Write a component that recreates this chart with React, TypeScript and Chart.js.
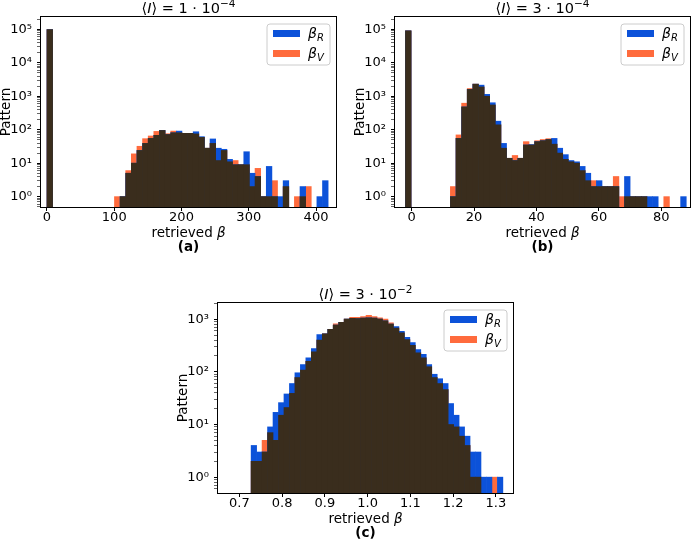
import React, { useEffect, useRef } from 'react';
import { Chart, registerables } from 'chart.js';

Chart.register(...registerables);

const FAMILY = '"DejaVu Sans", sans-serif';
const BLUE = '#0c52d9';
const ORANGE = '#ff6b3d';
const DARK = '#3a2d1d';

// ---------- Panel (a): <I> = 1e-4 ----------
const binStartA = 0;
const binWidthA = 8.36;
const countsRA = [
  99000, 0, 0, 0, 0, 0, 0, 0, 0, 0, 0, 0,
  0, 1, 5, 10, 24, 39, 55, 68, 95, 72, 81, 91, 78, 78, 87, 62, 28, 53,
  28, 26, 13, 9, 9, 22, 5, 4, 1, 8, 1, 1, 3, 0, 0, 2, 0, 0, 1, 3,
];
const countsVA = [
  99000, 0, 0, 0, 0, 0, 0, 0, 0, 0, 0, 0,
  1, 1, 6, 19, 32, 54, 65, 89, 95, 76, 91, 81, 78, 78, 75, 59, 28, 39,
  12, 24, 11, 12, 9, 9, 2, 7, 1, 1, 3, 0, 2, 0, 1, 1, 2, 0, 0, 0,
];

// ---------- Panel (b): <I> = 3e-4 ----------
const binStartB = -2;
const binWidthB = 1.8;
const countsRB = [
  91000, 0, 0, 0, 0, 0, 0, 0,
  1, 55, 480, 1600, 2300, 2150, 1140, 640, 180, 39, 14, 12, 14,
  35, 36, 44, 47, 51, 55, 28, 18, 12, 11, 8, 5, 2, 3, 2, 2, 2,
  0, 4, 1, 1, 1, 1, 1, 0, 0, 0, 0, 1,
];
const countsVB = [
  91000, 0, 0, 0, 0, 0, 0, 0,
  2, 70, 620, 1700, 2300, 1900, 1000, 550, 140, 28, 14, 17, 14,
  44, 35, 47, 51, 54, 37, 20, 13, 11, 10, 6, 3, 3, 2, 2, 2, 4,
  1, 1, 1, 1, 1, 0, 0, 0, 1, 0, 0, 0,
];

// ---------- Panel (c): <I> = 3e-2 ----------
const binStartC = 0.7275;
const binWidthC = 0.0128;
const countsRC = [
  4, 3, 3, 9, 17, 26, 38, 60, 96, 138, 185, 277, 510, 530, 640, 770,
  870, 1000, 1040, 1030, 1050, 1060, 1050, 1000, 930, 810, 720, 590, 450, 360,
  265, 215, 137, 90, 74, 60, 25, 15, 9, 6, 3, 3, 1, 1, 0, 1,
];
const countsVC = [
  2, 2, 5, 7, 5, 15, 21, 39, 78, 108, 158, 240, 400, 530, 640, 820,
  870, 1000, 1080, 1080, 1120, 1180, 1120, 1060, 1000, 850, 680, 550, 410, 320,
  230, 185, 125, 78, 60, 46, 10, 9, 6, 4, 1, 1, 0, 0, 1, 0,
];

// ---------- text ----------
const seriesNames = ['β', 'β'];
const seriesSubs = ['R', 'V'];
const titleMantissas = ['1', '3', '3'];
const titleExponents = ['−4', '−4', '−2'];
const captions = ['(a)', '(b)', '(c)'];
const xLabelText = 'retrieved ';
const xLabelSymbol = 'β';
const yLabelText = 'Pattern';

// ---------- axes ----------
const xRangeA = [-8.9, 429.7];
const xRangeB = [-5.35, 89.2];
const xRangeC = [0.65, 1.34];
const xStepA = 100;
const xStepB = 20;
const xStepC = 0.1;
const yRangeAB = [0.49, 2.34e5];
const yRangeC = [0.5, 2030];

const SUP: Record<string, string> = {
  '0': '⁰', '1': '¹', '2': '²', '3': '³', '4': '⁴', '5': '⁵', '6': '⁶', '7': '⁷', '8': '⁸', '9': '⁹', '-': '⁻',
};
const sup = (n: number) => String(n).split('').map((c) => SUP[c] ?? c).join('');

const font = (size: number, style = 'normal', weight = 'normal') => `${style} ${weight} ${size}px ${FAMILY}`;

type Part = { text: string; font: string; dy?: number; w?: number };

function drawParts(ctx: CanvasRenderingContext2D, parts: Part[], cx: number, baseline: number, align = 'center') {
  let total = 0;
  for (const p of parts) {
    ctx.font = p.font;
    p.w = ctx.measureText(p.text).width;
    total += p.w;
  }
  let x = align === 'center' ? cx - total / 2 : cx;
  ctx.textAlign = 'left';
  ctx.textBaseline = 'alphabetic';
  for (const p of parts) {
    ctx.font = p.font;
    ctx.fillText(p.text, x, baseline + (p.dy || 0));
    x += p.w || 0;
  }
}

const panelDecor = {
  id: 'panelDecor',
  afterDraw(chart: any, _args: any, opts: any) {
    const { ctx, chartArea: a } = chart;
    ctx.save();
    ctx.fillStyle = '#000';
    // frame
    ctx.strokeStyle = '#000';
    ctx.lineWidth = 1;
    ctx.strokeRect(a.left - 0.5, a.top - 0.5, a.right - a.left + 1, a.bottom - a.top + 1);
    const cx = (a.left + a.right) / 2;
    // title
    drawParts(ctx, [
      { text: '⟨', font: font(14.5) },
      { text: 'I', font: font(14.5, 'italic') },
      { text: '⟩ = ' + opts.mant + ' · 10', font: font(14.5) },
      { text: opts.exp, font: font(10.5), dy: -6 },
    ], cx, a.top - 4.5);
    // x label
    drawParts(ctx, [
      { text: xLabelText, font: font(13.5) },
      { text: xLabelSymbol, font: font(13.5, 'italic') },
    ], cx, a.bottom + 30);
    // caption
    drawParts(ctx, [{ text: opts.caption, font: font(13.5, 'normal', 'bold') }], cx, a.bottom + 44);
    // y label
    ctx.save();
    ctx.translate(a.left - 34.5, (a.top + a.bottom) / 2);
    ctx.rotate(-Math.PI / 2);
    ctx.font = font(13.5);
    ctx.textAlign = 'center';
    ctx.textBaseline = 'middle';
    ctx.fillText(yLabelText, 0, 0);
    ctx.restore();
    // legend
    const bw = 63, bh = 41;
    const bx = a.right - 6 - bw, by = a.top + 7;
    ctx.beginPath();
    const r = 3;
    ctx.moveTo(bx + r, by);
    ctx.lineTo(bx + bw - r, by);
    ctx.quadraticCurveTo(bx + bw, by, bx + bw, by + r);
    ctx.lineTo(bx + bw, by + bh - r);
    ctx.quadraticCurveTo(bx + bw, by + bh, bx + bw - r, by + bh);
    ctx.lineTo(bx + r, by + bh);
    ctx.quadraticCurveTo(bx, by + bh, bx, by + bh - r);
    ctx.lineTo(bx, by + r);
    ctx.quadraticCurveTo(bx, by, bx + r, by);
    ctx.closePath();
    ctx.fillStyle = 'rgba(255,255,255,0.8)';
    ctx.fill();
    ctx.strokeStyle = '#cccccc';
    ctx.stroke();
    const colors = [BLUE, ORANGE];
    for (let i = 0; i < 2; i++) {
      const cy = by + 9.5 + 20 * i;
      ctx.fillStyle = colors[i];
      ctx.fillRect(bx + 6, cy - 3.5, 27, 7);
      ctx.fillStyle = '#000';
      drawParts(ctx, [
        { text: seriesNames[i], font: font(14, 'italic') },
        { text: seriesSubs[i], font: font(10, 'italic'), dy: 3 },
      ], bx + 41, cy + 4.5, 'left');
    }
    ctx.restore();
  },
};

function toPoints(counts: number[], start: number, width: number) {
  return counts.map((c, k) => ({ x: start + (k + 0.5) * width, y: c > 0 ? c : null }));
}

type PanelCfg = {
  left: number; top: number; w: number; h: number;
  yW: number; padTop: number; padRight: number; padBottom: number;
  start: number; width: number; R: number[]; V: number[];
  xRange: number[]; xStep: number; xDec: number; yRange: number[];
  idx: number;
};

const panels: PanelCfg[] = [
  { left: 0, top: 0, w: 346, h: 270, yW: 41, padTop: 17, padRight: 10, padBottom: 43,
    start: binStartA, width: binWidthA, R: countsRA, V: countsVA,
    xRange: xRangeA, xStep: xStepA, xDec: 0, yRange: yRangeAB, idx: 0 },
  { left: 346, top: 0, w: 346, h: 270, yW: 49, padTop: 17, padRight: 2, padBottom: 43,
    start: binStartB, width: binWidthB, R: countsRB, V: countsVB,
    xRange: xRangeB, xStep: xStepB, xDec: 0, yRange: yRangeAB, idx: 1 },
  { left: 150, top: 270, w: 400, h: 269, yW: 68, padTop: 33, padRight: 37, padBottom: 26,
    start: binStartC, width: binWidthC, R: countsRC, V: countsVC,
    xRange: xRangeC, xStep: xStepC, xDec: 1, yRange: yRangeC, idx: 2 },
];

function buildConfig(p: PanelCfg): any {
  const both = p.R.map((c, k) => Math.min(c, p.V[k]));
  const common = { grouped: false, barPercentage: 1, categoryPercentage: 1, borderWidth: 0 };
  const tickFont = { family: FAMILY, size: 13, lineHeight: 1 };
  return {
    type: 'bar',
    data: {
      datasets: [
        { label: 'both', data: toPoints(both, p.start, p.width), backgroundColor: DARK, order: 0, ...common },
        { label: 'βR', data: toPoints(p.R, p.start, p.width), backgroundColor: BLUE, order: 1, ...common },
        { label: 'βV', data: toPoints(p.V, p.start, p.width), backgroundColor: ORANGE, order: 2, ...common },
      ],
    },
    options: {
      responsive: false,
      animation: false,
      devicePixelRatio: 1,
      events: [],
      layout: { padding: { left: 0, top: p.padTop, right: p.padRight, bottom: p.padBottom } },
      plugins: {
        legend: { display: false },
        tooltip: { enabled: false },
        title: { display: false },
        panelDecor: { mant: titleMantissas[p.idx], exp: titleExponents[p.idx], caption: captions[p.idx] },
      },
      scales: {
        x: {
          type: 'linear',
          min: p.xRange[0],
          max: p.xRange[1],
          offset: false,
          grid: { display: true, offset: false, drawOnChartArea: false, drawTicks: true, tickLength: 4, tickColor: '#000', color: '#000' },
          border: { display: false },
          ticks: {
            stepSize: p.xStep, includeBounds: false, autoSkip: false, maxRotation: 0, minRotation: 0,
            padding: 0, color: '#000', font: tickFont,
            callback: (v: any) => Number(v).toFixed(p.xDec),
          },
          afterFit: (s: any) => { s.height = 20; },
        },
        y: {
          type: 'logarithmic',
          min: p.yRange[0],
          max: p.yRange[1],
          grid: {
            display: true, drawOnChartArea: false, drawTicks: true, tickLength: 4, color: '#000',
            tickColor: '#000',
            tickWidth: (ctx: any) => (ctx.tick && ctx.tick.major ? 1 : 0.6),
          },
          border: { display: false },
          afterBuildTicks: (scale: any) => {
            const ticks: any[] = [];
            const lo = Math.floor(Math.log10(scale.min));
            const hi = Math.ceil(Math.log10(scale.max));
            for (let e = lo; e <= hi; e++) {
              for (let m = 1; m < 10; m++) {
                const v = m * Math.pow(10, e);
                if (v > scale.min && v < scale.max) ticks.push({ value: v, major: m === 1 });
              }
            }
            scale.ticks = ticks;
          },
          ticks: {
            autoSkip: false, padding: 5, color: '#000', font: tickFont,
            callback: (v: any, i: number, ticks: any[]) =>
              ticks[i] && ticks[i].major ? '10' + sup(Math.round(Math.log10(Number(v)))) : '',
          },
          afterFit: (s: any) => { s.width = p.yW; },
        },
      },
    },
    plugins: [panelDecor],
  };
}

function Panel({ cfg }: { cfg: PanelCfg }) {
  const ref = useRef<HTMLCanvasElement>(null);
  useEffect(() => {
    const chart = new Chart(ref.current as HTMLCanvasElement, buildConfig(cfg));
    return () => chart.destroy();
  }, [cfg]);
  return (
    <canvas
      ref={ref}
      width={cfg.w}
      height={cfg.h}
      style={{ position: 'absolute', left: cfg.left, top: cfg.top, width: cfg.w, height: cfg.h }}
    />
  );
}

export default function App() {
  return (
    <div style={{ position: 'absolute', left: 0, top: 0, width: 692, height: 539, background: '#fff', overflow: 'hidden' }}>
      {panels.map((p) => (
        <Panel key={p.idx} cfg={p} />
      ))}
    </div>
  );
}
